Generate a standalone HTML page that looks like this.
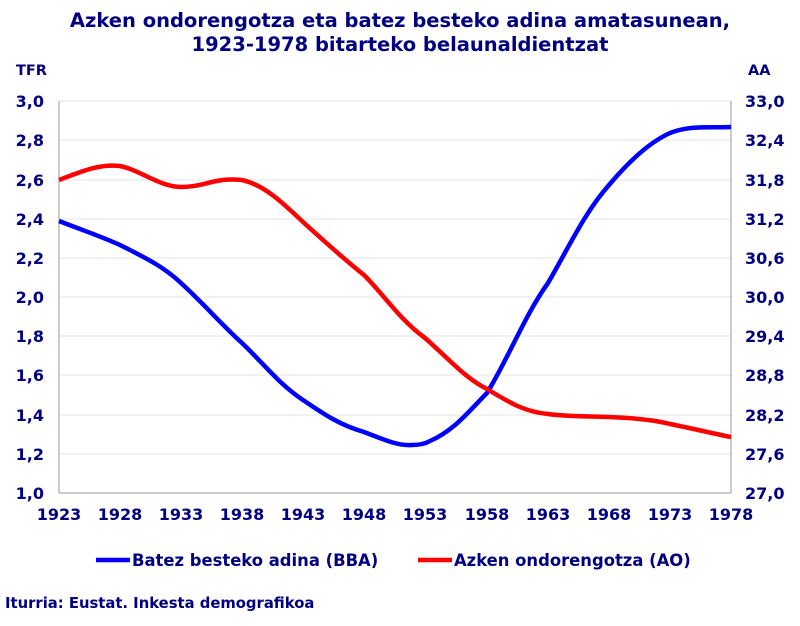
<!DOCTYPE html>
<html><head><meta charset="utf-8"><style>
body{margin:0;background:#fff;}
svg text{font-family:"DejaVu Sans","Liberation Sans",sans-serif;font-weight:bold;fill:#000080;}
</style></head><body>
<svg width="800" height="621" viewBox="0 0 800 621" xmlns="http://www.w3.org/2000/svg">
<text x="400" y="27" text-anchor="middle" font-size="19.5">Azken ondorengotza eta batez besteko adina amatasunean,</text>
<text x="400" y="51" text-anchor="middle" font-size="19.5">1923-1978 bitarteko belaunaldientzat</text>
<text x="16" y="75" font-size="14.5">TFR</text>
<text x="748" y="75" font-size="14.5">AA</text>
<g stroke="#e6e6e6" stroke-width="1">
<line x1="59" x2="731" y1="101" y2="101"/><line x1="59" x2="731" y1="140" y2="140"/>
<line x1="59" x2="731" y1="180" y2="180"/><line x1="59" x2="731" y1="219" y2="219"/>
<line x1="59" x2="731" y1="258" y2="258"/><line x1="59" x2="731" y1="297" y2="297"/>
<line x1="59" x2="731" y1="336" y2="336"/><line x1="59" x2="731" y1="375" y2="375"/>
<line x1="59" x2="731" y1="415" y2="415"/><line x1="59" x2="731" y1="454" y2="454"/>
</g>
<line x1="59" x2="59" y1="101" y2="493" stroke="#999"/>
<line x1="731" x2="731" y1="101" y2="493" stroke="#999"/>
<line x1="59" x2="731" y1="493" y2="493" stroke="#999"/>
<g font-size="16" text-anchor="end">
<text x="44" y="107">3,0</text><text x="44" y="146">2,8</text><text x="44" y="186">2,6</text>
<text x="44" y="225">2,4</text><text x="44" y="264">2,2</text><text x="44" y="303">2,0</text>
<text x="44" y="342">1,8</text><text x="44" y="381">1,6</text><text x="44" y="421">1,4</text>
<text x="44" y="460">1,2</text><text x="44" y="499">1,0</text>
</g>
<g font-size="16" text-anchor="start">
<text x="745" y="107">33,0</text><text x="745" y="146">32,4</text><text x="745" y="186">31,8</text>
<text x="745" y="225">31,2</text><text x="745" y="264">30,6</text><text x="745" y="303">30,0</text>
<text x="745" y="342">29,4</text><text x="745" y="381">28,8</text><text x="745" y="421">28,2</text>
<text x="745" y="460">27,6</text><text x="745" y="499">27,0</text>
</g>
<g font-size="16" text-anchor="middle">
<text x="59" y="520">1923</text><text x="120" y="520">1928</text><text x="181" y="520">1933</text>
<text x="242" y="520">1938</text><text x="303" y="520">1943</text><text x="364" y="520">1948</text>
<text x="425" y="520">1953</text><text x="487" y="520">1958</text><text x="548" y="520">1963</text>
<text x="609" y="520">1968</text><text x="670" y="520">1973</text><text x="731" y="520">1978</text>
</g>
<path d="M59,221 C90,233 100,236 120,245 C150,260 165,268 181,283 C205,305 220,323 242,343 C265,365 280,385 303,400 C325,415 340,425 364,432 C385,440 398,446 412,445 C420,445 425,444 430,441 C455,430 470,410 487,393 C510,355 525,315 548,283 C570,245 585,212 609,185 C630,160 650,142 670,133 C690,125 710,128 731,127" fill="none" stroke="#0000ff" stroke-width="4.5"/>
<path d="M59,180 C85,170 100,164 120,166 C140,170 160,187 181,187 C205,187 215,177 242,180 C265,185 285,205 303,222 C325,242 345,260 364,275 C385,296 400,320 425,338 C450,360 465,378 487,389 C510,403 525,412 548,414 C570,417 590,416 609,417 C635,418 655,420 670,424 C695,429 715,434 731,437" fill="none" stroke="#ff0000" stroke-width="4.5"/>
<line x1="96" x2="130" y1="560" y2="560" stroke="#0000ff" stroke-width="4.5"/>
<text x="132" y="566" font-size="16.4">Batez besteko adina (BBA)</text>
<line x1="418" x2="452" y1="560" y2="560" stroke="#ff0000" stroke-width="4.5"/>
<text x="454" y="566" font-size="16.4">Azken ondorengotza (AO)</text>
<text x="5" y="608" font-size="14.8">Iturria: Eustat. Inkesta demografikoa</text>
</svg>
</body></html>
